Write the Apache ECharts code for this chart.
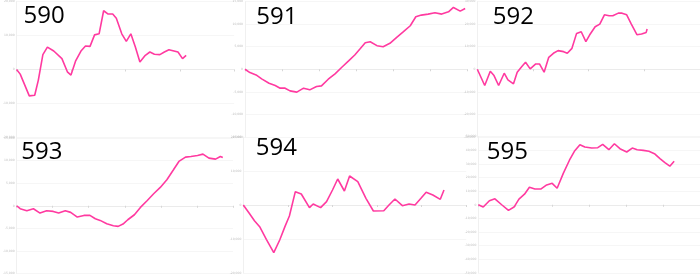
<!DOCTYPE html>
<html><head><meta charset="utf-8">
<script src="https://cdn.jsdelivr.net/npm/echarts@6/dist/echarts.min.js"></script>
<style>html,body{margin:0;padding:0;background:#fff}#c{width:700px;height:275px}</style>
</head><body><div id="c"></div>
<script>
const panelNames = ['590','591','592','593','594','595'];

const days590 = [0,4,14,20,24,29,34,41,50,56,60,65,71,76,81,86,91,96,101,106,110,116,121,126,131,136,142,147,152,158,163,168,178,183,187];
const vals590 = [0,-1360,-7770,-7570,-3110,4370,6600,5440,3200,-680,-1650,2430,5440,6890,6800,10190,10490,17280,16310,16310,15050,10490,8250,10490,6600,2230,4170,5150,4470,4370,5150,5830,5150,3200,4170];

const days591 = [0,8,18,27,39,49,57,65,73,84,95,105,116,124,135,146,157,168,178,186,195,203,214,224,235,246,257,268,277,286,297,308,319,330,338,349,357];
const vals591 = [0,-735,-1250,-2130,-3090,-3600,-4190,-4190,-4780,-5070,-4190,-4560,-3820,-3680,-2210,-1030,440,1840,3160,4410,5880,6100,5220,5000,5740,7060,8310,9630,11620,11990,12210,12500,12210,12720,13680,12870,13460];

const days592 = [0,8,14,18,23,29,33,39,43,48,52,57,63,67,72,77,82,87,93,97,102,107,112,117,121,127,132,137,142,146,152,156,161,166,172,177,182,183];
const vals592 = [0,-7200,-880,-2790,-7200,-1760,-4710,-6470,-1320,1180,3090,150,2350,2350,-1320,5290,7060,8240,7790,7060,9260,15880,16620,12210,15150,18820,20000,24120,23680,23680,24850,24850,24120,20000,15290,15590,16320,17790];

const days593 = [0,6,17,28,39,50,61,70,81,90,101,112,122,131,139,150,161,169,177,185,196,206,217,228,239,250,261,270,281,290,301,310,320,331,339,343];
const vals593 = [0,-660,-1110,-660,-1620,-1110,-1250,-1620,-1110,-1470,-2510,-2140,-2140,-2880,-3240,-3980,-4420,-4570,-4060,-3100,-1990,-370,1110,2650,4060,5750,7960,9810,10770,10910,11140,11430,10550,10320,10910,10690];

const days594 = [0,8,15,22,31,41,49,56,62,70,78,89,94,104,112,120,127,136,143,154,165,175,189,196,204,214,223,231,239,246,255,265,270];
const vals594 = [0,-2450,-4610,-6370,-10100,-14020,-10290,-6370,-3240,3920,3240,-780,290,-780,980,4410,7650,4120,8530,6860,1960,-1760,-1670,0,1760,-200,290,0,1960,3730,2940,1670,4410];

const days595 = [0,8,18,27,38,49,58,66,75,83,92,102,111,120,128,138,148,156,165,173,184,194,202,212,221,230,241,250,258,268,277,286,295,303,311,318];
const vals595 = [0,-1690,2900,4350,0,-4110,-1690,4110,7730,12800,11590,11590,14490,15700,12080,22950,32610,39130,43960,42270,41550,41790,44200,40340,44690,41060,38650,41550,40340,39860,39130,37440,33820,30920,28260,31880];

const yTicks590 = [-20000,-10000,0,10000,20000];
const yTicks591 = [-15000,-10000,-5000,0,5000,10000,15000];
const yTicks592 = [-30000,-20000,-10000,0,10000,20000,30000];
const yTicks593 = [-15000,-10000,-5000,0,5000,10000,15000];
const yTicks594 = [-20000,-10000,0,10000,20000];
const yTicks595 = [-50000,-40000,-30000,-20000,-10000,0,10000,20000,30000,40000,50000];

const xTicks590 = [0,60,120,180,240];
const xTicks591 = [0,60,120,180,240,300,360];
const xTicks592 = [0,60,120,180,240];
const xTicks593 = [0,60,120,180,240,300,360];
const xTicks594 = [0,60,120,180,240,300];
const xTicks595 = [0,60,120,180,240,300,360];

const panels = [
  {name:panelNames[0], d:days590, v:vals590, yt:yTicks590, xt:xTicks590, g:{left:11.7,top:1.5,width:222.5,height:136}, t:{x:23.5,y:4}},
  {name:panelNames[1], d:days591, v:vals591, yt:yTicks591, xt:xTicks591, g:{left:245,top:1,width:222,height:136}, t:{x:256.3,y:5}},
  {name:panelNames[2], d:days592, v:vals592, yt:yTicks592, xt:xTicks592, g:{left:477.3,top:1,width:222.7,height:136}, t:{x:492.8,y:5}},
  {name:panelNames[3], d:days593, v:vals593, yt:yTicks593, xt:xTicks593, g:{left:11,top:138,width:222,height:136}, t:{x:21.2,y:140.3}},
  {name:panelNames[4], d:days594, v:vals594, yt:yTicks594, xt:xTicks594, g:{left:243.3,top:137,width:223,height:136}, t:{x:255.8,y:136.3}},
  {name:panelNames[5], d:days595, v:vals595, yt:yTicks595, xt:xTicks595, g:{left:478.3,top:136.5,width:221.7,height:136.5}, t:{x:486.8,y:139.7}}
];

const chart = echarts.init(document.getElementById('c'), null, {renderer:'canvas'});
const option = {
  animation:false,
  backgroundColor:'#ffffff',
  grid:[], xAxis:[], yAxis:[], series:[], graphic:[]
};
panels.forEach((p,i)=>{
  option.grid.push(Object.assign({containLabel:false}, p.g));
  option.xAxis.push({
    type:'value', gridIndex:i, min:p.xt[0], max:p.xt[p.xt.length-1],
    interval:p.xt[1]-p.xt[0],
    axisLine:{onZero:true, lineStyle:{color:'#ebebeb', width:1}},
    axisTick:{show:true, length:2, lineStyle:{color:'#d6d6d6'}},
    axisLabel:{show:false}, splitLine:{show:false}
  });
  option.yAxis.push({
    type:'value', gridIndex:i, min:p.yt[0], max:p.yt[p.yt.length-1],
    interval:p.yt[1]-p.yt[0],
    axisLine:{show:true, lineStyle:{color:'#f0f0f0', width:1}},
    axisTick:{show:false},
    axisLabel:{show:true, fontSize:3, color:'#bdbdbd', margin:2, fontFamily:'DejaVu Sans'},
    splitLine:{show:true, lineStyle:{color:'#f6f6f6', width:1}}
  });
  option.series.push({
    type:'line', xAxisIndex:i, yAxisIndex:i,
    data:p.d.map((x,k)=>[x,p.v[k]]),
    showSymbol:false, smooth:false,
    lineStyle:{color:'#ff3aa0', width:1.6}, itemStyle:{color:'#ff3aa0'}
  });
  option.graphic.push({
    type:'text', left:p.t.x, top:p.t.y, z:100,
    style:{text:p.name, fontSize:24, fill:'#000', fontFamily:'Open Sans'}
  });
});
chart.setOption(option);
</script></body></html>
